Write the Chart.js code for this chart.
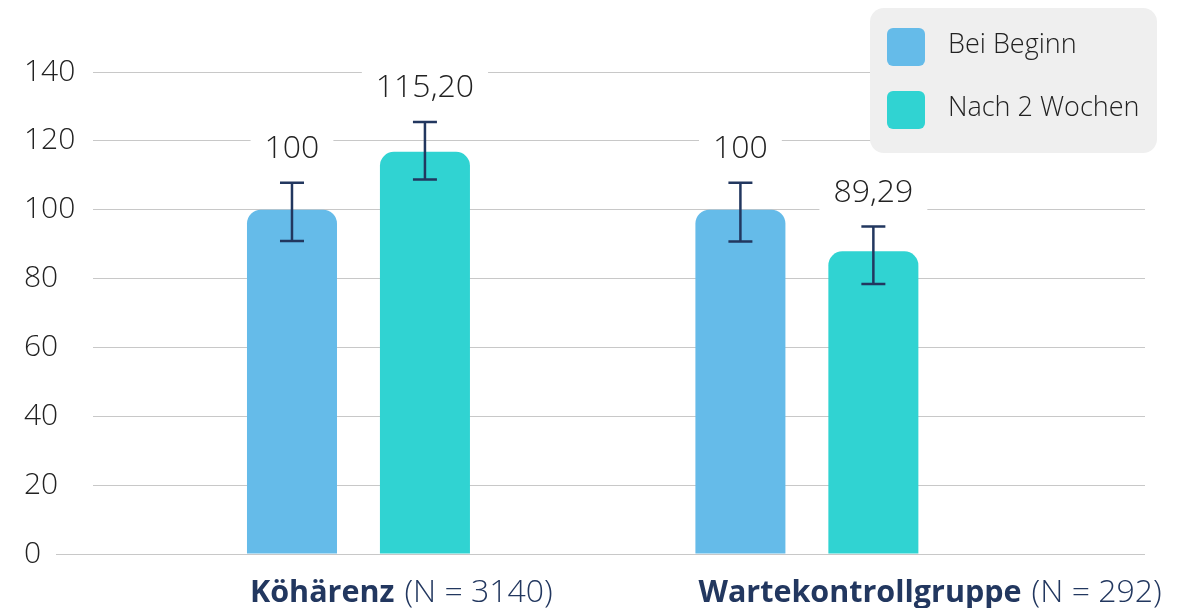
<!DOCTYPE html>
<html lang="de">
<head>
<meta charset="utf-8">
<script src="https://cdn.jsdelivr.net/npm/chart.js@4.4.1/dist/chart.umd.min.js"></script>
<style>
html, body { margin: 0; padding: 0; background: #fff; }
#wrap { width: 1189px; height: 608px; }
</style>
</head>
<body>
<div id="wrap"><canvas id="chart" width="1189" height="608"></canvas></div>
<script>
const groups = ['Köhärenz', 'Wartekontrollgruppe'];
const groupNotes = ['(N = 3140)', '(N = 292)'];
const seriesNames = ['Bei Beginn', 'Nach 2 Wochen'];
const beginValues = [100, 100];
const afterValues = [116.8, 87.9];
const beginLabels = ['100', '100'];
const afterLabels = ['115,20', '89,29'];
const beginErrLow = [90.9, 90.8];
const beginErrHigh = [107.8, 107.8];
const afterErrLow = [108.8, 78.4];
const afterErrHigh = [125.5, 95.1];
const yTicks = [0, 20, 40, 60, 80, 100, 120, 140];

const FONT = '"Open Sans", "Noto Sans", sans-serif';
const NAVY = '#22375f';
const BLUE = '#65bbe9';
const TEAL = '#30d3d2';
const GRID = '#c8c8c8';

const toPoints = vals => vals.map((v, i) => ({ x: i + 1, y: v }));

function roundRect(ctx, x, y, w, h, r) {
    ctx.beginPath();
    ctx.moveTo(x + r, y);
    ctx.arcTo(x + w, y, x + w, y + h, r);
    ctx.arcTo(x + w, y + h, x, y + h, r);
    ctx.arcTo(x, y + h, x, y, r);
    ctx.arcTo(x, y, x + w, y, r);
    ctx.closePath();
}

const extras = {
    id: 'extras',
    beforeDatasetsDraw(chart) {
        // the zero line reaches further left than the other grid lines
        const { ctx, chartArea, scales: { y } } = chart;
        const y0 = Math.round(y.getPixelForValue(0)) + 0.5;
        ctx.save();
        ctx.strokeStyle = GRID;
        ctx.lineWidth = 1;
        ctx.beginPath();
        ctx.moveTo(56, y0);
        ctx.lineTo(chartArea.left, y0);
        ctx.stroke();
        ctx.restore();
    },
    afterDatasetsDraw(chart) {
        const { ctx, scales: { y } } = chart;
        ctx.save();
        chart.data.datasets.forEach((ds, di) => {
            chart.getDatasetMeta(di).data.forEach((bar, i) => {
                const top = y.getPixelForValue(ds.errHigh[i]);
                const bot = y.getPixelForValue(ds.errLow[i]);
                ctx.strokeStyle = NAVY;
                ctx.lineWidth = 2.5;
                ctx.beginPath();
                ctx.moveTo(bar.x, top); ctx.lineTo(bar.x, bot);
                ctx.moveTo(bar.x - 12, top); ctx.lineTo(bar.x + 12, top);
                ctx.moveTo(bar.x - 12, bot); ctx.lineTo(bar.x + 12, bot);
                ctx.stroke();

                ctx.font = '300 32px ' + FONT;
                const txt = ds.valueLabels[i];
                const w = ctx.measureText(txt).width;
                const cy = top - 35;
                ctx.fillStyle = '#fff';
                ctx.fillRect(bar.x - w / 2 - 14, cy - 20, w + 28, 40);
                ctx.fillStyle = '#222';
                ctx.textAlign = 'center';
                ctx.textBaseline = 'middle';
                ctx.fillText(txt, bar.x, cy + 1);
            });
        });
        ctx.restore();
    },
    afterDraw(chart) {
        const { ctx } = chart;
        ctx.save();
        // group labels, left aligned with the first bar of each group
        const meta = chart.getDatasetMeta(0);
        ctx.textBaseline = 'alphabetic';
        ctx.textAlign = 'left';
        groups.forEach((g, i) => {
            const bar = meta.data[i];
            let x = bar.x - bar.width / 2 + 3;
            ctx.fillStyle = NAVY;
            ctx.font = 'bold 30.5px ' + FONT;
            ctx.fillText(g, x, 602);
            x += ctx.measureText(g).width + 10;
            ctx.font = '300 32px ' + FONT;
            ctx.fillText(groupNotes[i], x, 602);
        });

        // legend box
        ctx.fillStyle = '#efefef';
        roundRect(ctx, 870, 8, 287, 145, 14);
        ctx.fill();
        chart.data.datasets.forEach((ds, i) => {
            const top = 28 + i * 63;
            ctx.fillStyle = ds.backgroundColor;
            roundRect(ctx, 887, top, 38, 38, 6);
            ctx.fill();
            ctx.fillStyle = '#222';
            ctx.font = '300 27px ' + FONT;
            ctx.textBaseline = 'middle';
            ctx.fillText(ds.label, 948, top + 17);
        });
        ctx.restore();
    }
};

new Chart(document.getElementById('chart'), {
    type: 'bar',
    data: {
        datasets: [
            {
                label: seriesNames[0],
                data: toPoints(beginValues),
                backgroundColor: BLUE,
                valueLabels: beginLabels,
                errLow: beginErrLow,
                errHigh: beginErrHigh
            },
            {
                label: seriesNames[1],
                data: toPoints(afterValues),
                backgroundColor: TEAL,
                valueLabels: afterLabels,
                errLow: afterErrLow,
                errHigh: afterErrHigh
            }
        ]
    },
    options: {
        responsive: false,
        devicePixelRatio: 1,
        animation: false,
        categoryPercentage: 0.593,
        barPercentage: 0.677,
        borderRadius: { topLeft: 14, topRight: 14, bottomLeft: 0, bottomRight: 0 },
        borderSkipped: false,
        layout: { padding: { left: 24, right: 44, top: 72, bottom: 54 } },
        plugins: {
            legend: { display: false },
            tooltip: { enabled: false }
        },
        scales: {
            x: {
                type: 'linear',
                display: false,
                offset: false,
                min: 0.408,
                max: 2.754,
                afterBuildTicks: s => { s.ticks = groups.map((g, i) => ({ value: i + 1 })); }
            },
            y: {
                min: 0,
                max: 140,
                afterBuildTicks: s => { s.ticks = yTicks.map(v => ({ value: v })); },
                afterFit: s => { s.width = 69; },
                border: { display: false },
                grid: { color: GRID, lineWidth: 1, drawTicks: false },
                ticks: {
                    crossAlign: 'far',
                    padding: 0,
                    color: '#222',
                    font: { family: FONT, size: 30, weight: 300 }
                }
            }
        }
    },
    plugins: [extras]
});
</script>
</body>
</html>
